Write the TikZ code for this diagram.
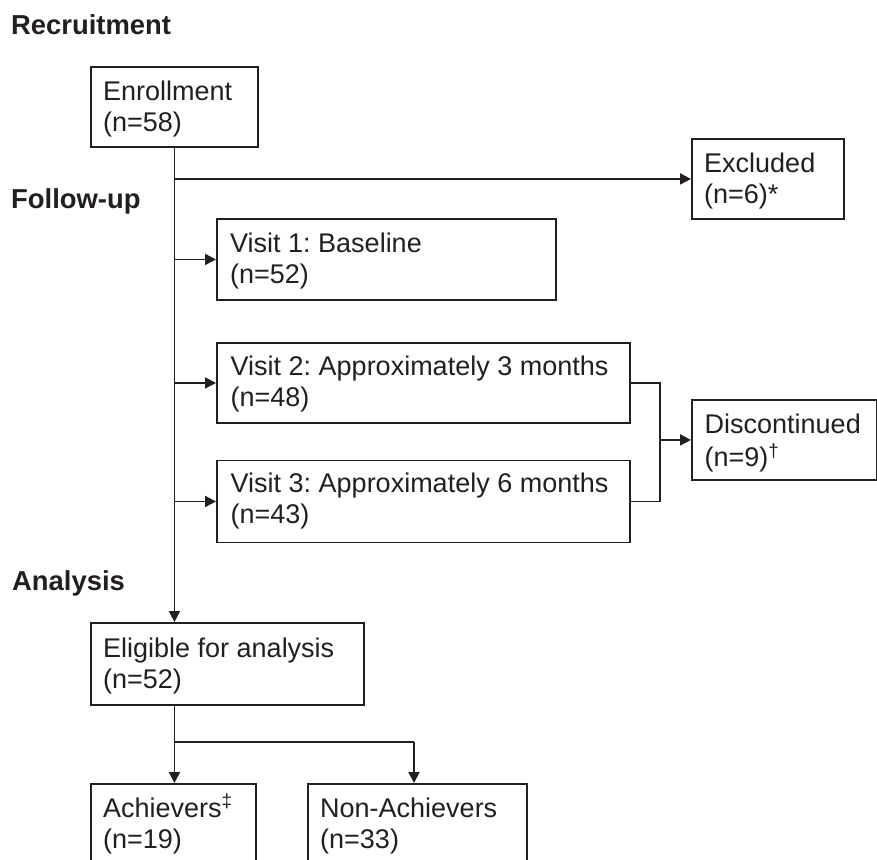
\documentclass[tikz,border=0pt]{standalone}
\usepackage{fontspec}
\setmainfont{Liberation Sans}
\usetikzlibrary{arrows.meta}
\definecolor{ink}{HTML}{231F20}
\frenchspacing
\tikzset{
  box/.style={draw=ink, line width=1.9pt, rectangle, inner sep=0pt, anchor=north west},
  txt/.style={text=ink, font=\fontsize{27}{31}\selectfont, inner sep=0pt, anchor=base west},
  ttl/.style={text=ink, font=\bfseries\fontsize{27.4}{30}\selectfont, inner sep=0pt, anchor=base west},
  conn/.style={draw=ink, line width=1.9pt},
  arr/.style={conn, -{Triangle[length=11pt,width=11pt]}},
}
\newcommand{\twolines}[2]{\vtop{\hbox{\strut #1}\hbox{\strut #2}}}
\begin{document}
\begin{tikzpicture}[x=1pt,y=-1pt]
\clip (0,0) rectangle (877,859);
\fill[white] (0,0) rectangle (877,859);

% section titles
\node[ttl] (tRec) at (11,35) {Recruitment};
\node[ttl] (tFol) at (11,208) {Follow-up};
\node[ttl] (tAna) at (12,590) {Analysis};

% boxes
\node[box, minimum width=167pt, minimum height=80pt] (enr) at (90,66) {};
\node[box, minimum width=152pt, minimum height=80pt] (exc) at (691,138) {};
\node[box, minimum width=339pt, minimum height=81pt] (v1) at (216,218) {};
\node[box, minimum width=413pt, minimum height=80pt] (v2) at (216,342) {};
\node[box, minimum width=413pt, minimum height=82pt] (v3) at (216,459.5) {};
\node[box, minimum width=184.5pt, minimum height=80pt] (dis) at (691,399) {};
\node[box, minimum width=273pt, minimum height=82pt] (eli) at (90,622) {};
\node[box, minimum width=165pt, minimum height=100pt] (ach) at (90,783) {};
\node[box, minimum width=219pt, minimum height=100pt] (nach) at (307,783) {};

% box texts
\node[txt] (enrT) at ([xshift=13pt,yshift=-34pt]enr.north west) {\twolines{Enrollment}{(n=58)}};
\node[txt] (excT) at ([xshift=13pt,yshift=-34pt]exc.north west) {\twolines{Excluded}{(n=6)*}};
\node[txt] (v1T) at ([xshift=14pt,yshift=-34pt]v1.north west) {\twolines{Visit 1: Baseline}{(n=52)}};
\node[txt] (v2T) at ([xshift=14.5pt,yshift=-33pt]v2.north west) {\twolines{Visit 2: Approximately 3 months}{(n=48)}};
\node[txt] (v3T) at ([xshift=14.5pt,yshift=-33pt]v3.north west) {\twolines{Visit 3: Approximately 6 months}{(n=43)}};
\node[txt] (disT) at ([xshift=13.5pt,yshift=-34pt]dis.north west) {\twolines{Discontinued}{(n=9)\textsuperscript{†}}};
\node[txt] (eliT) at ([xshift=13pt,yshift=-35pt]eli.north west) {\twolines{Eligible for analysis}{(n=52)}};
\node[txt] (achT) at ([xshift=13pt,yshift=-34pt]ach.north west) {\twolines{Achievers\textsuperscript{‡}}{(n=19)}};
\node[txt] (nachT) at ([xshift=13pt,yshift=-34pt]nach.north west) {\twolines{Non-Achievers}{(n=33)}};

% connectors
\draw[arr] (enr.south) -- (enr.south |- eli.north);
\draw[arr] (enr.south |- exc.west) -- (exc.west);
\draw[arr] (enr.south |- v1.west) -- (v1.west);
\draw[arr] (enr.south |- v2.west) -- (v2.west);
\draw[arr] (enr.south |- v3.west) -- (v3.west);

\coordinate (bk) at (660,400);
\draw[conn] (v2.east) -- (bk |- v2.east) -- (bk |- v3.east) -- (v3.east);
\draw[arr] (bk |- dis.west) -- (dis.west);

\coordinate (elb) at (enr.south |- eli.south);
\coordinate (brL) at (enr.south |- 0,742);
\coordinate (brR) at (414,742);
\draw[arr] (elb) -- (elb |- ach.north);
\draw[conn] (brL) -- (brR);
\draw[arr] (brR) -- (brR |- nach.north);
\end{tikzpicture}
\end{document}
